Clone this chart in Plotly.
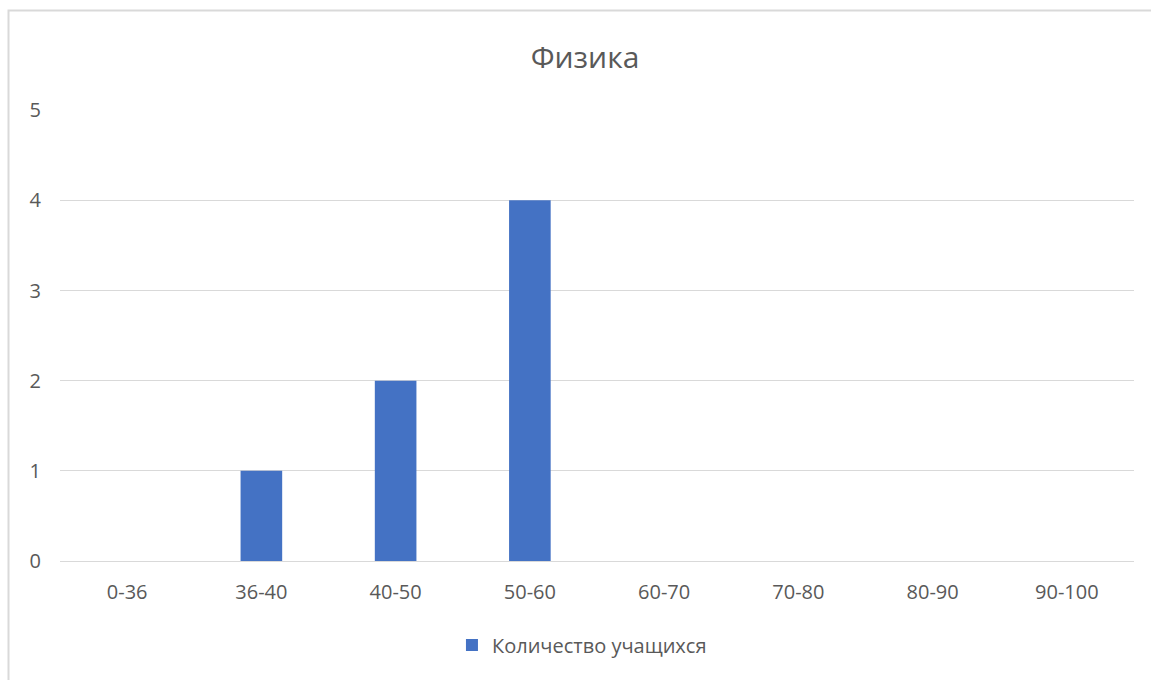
import plotly.graph_objects as go

categories = ["0-36", "36-40", "40-50", "50-60", "60-70", "70-80", "80-90", "90-100"]
counts = [0, 1, 2, 4, 0, 0, 0, 0]
series_name = "Количество учащихся"
title_text = "Физика"

W, H = 1151, 680
L, R, T, B = 60, 17, 110, 119

fig = go.Figure()
fig.add_trace(go.Bar(x=categories, y=counts, name=series_name,
                     marker=dict(color="#4472C4", line=dict(width=0))))

font_family = "Open Sans, Noto Sans, sans-serif"
fig.update_layout(
    width=W, height=H,
    margin=dict(l=L, r=R, t=T, b=B, pad=0),
    paper_bgcolor="white", plot_bgcolor="white",
    bargap=0.69,
    showlegend=True,
    title=dict(text=title_text, x=585 / W, xanchor="center",
               y=1 - 57 / H, yanchor="middle",
               font=dict(family=font_family, size=30, color="#595959")),
    legend=dict(orientation="h", x=0.486, xanchor="center", y=-0.186, yanchor="middle",
                font=dict(family=font_family, size=20, color="#595959"),
                itemwidth=30),
    xaxis=dict(showgrid=False, showline=False, zeroline=False, ticks="",
               tickfont=dict(family=font_family, size=20, color="#595959"),
               ticklabelstandoff=17),
    yaxis=dict(range=[0, 5.002], dtick=1, showgrid=True, gridcolor="#D9D9D9", gridwidth=1,
               zeroline=True, zerolinecolor="#D9D9D9", zerolinewidth=1,
               showline=False, ticks="",
               tickfont=dict(family=font_family, size=20, color="#595959"),
               ticklabelstandoff=18),
    shapes=[dict(type="rect", xref="paper", yref="paper",
                 x0=(8.5 - L) / (W - L - R), x1=(W + 20 - L) / (W - L - R),
                 y0=-(H + 20 - (H - B)) / (H - T - B), y1=1 + (T - 10.5) / (H - T - B),
                 line=dict(color="#D9D9D9", width=2), layer="below")],
)

fig.write_html("out.html", config={"displayModeBar": False},
               post_script="document.body.style.margin='0';")
